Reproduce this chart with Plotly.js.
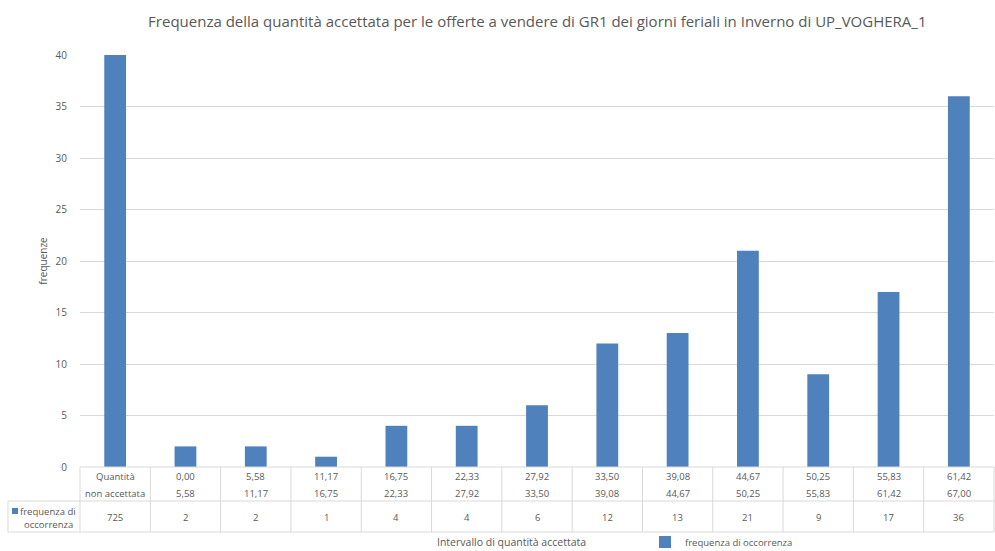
<!DOCTYPE html>
<html><head><meta charset="utf-8">
<script src="https://cdn.plot.ly/plotly-3.0.1.min.js"></script>
<style>html,body{margin:0;padding:0;background:#fff}#chart{width:995px;height:551px}</style>
</head><body><div id="chart"></div>
<script>
const lowerBounds = ["Quantità","0,00","5,58","11,17","16,75","22,33","27,92","33,50","39,08","44,67","50,25","55,83","61,42"];
const upperBounds = ["non accettata","5,58","11,17","16,75","22,33","27,92","33,50","39,08","44,67","50,25","55,83","61,42","67,00"];
const frequencies = [725,2,2,1,4,4,6,12,13,21,9,17,36];
const seriesName = "frequenza di occorrenza";
const yTicks = [0,5,10,15,20,25,30,35,40];

const W=995,H=551,L=80,R=1,T=55,B=84;
const pw=W-L-R, ph=H-T-B;
const n=frequencies.length;
const idx = frequencies.map((_,i)=>i);
const font = "Open Sans, sans-serif";
const gray = "#595959", lineC="#d9d9d9", blue="#4f81bd";
const py = p => (T+ph-p)/ph; // pixel y -> paper
const px = p => (p-L)/pw;

const shapes=[], ann=[];
shapes.push({type:'line',xref:'paper',yref:'paper',x0:0,x1:1,y0:py(467),y1:py(467),line:{color:lineC,width:1}});
shapes.push({type:'line',xref:'paper',yref:'paper',x0:px(8),x1:1,y0:py(501),y1:py(501),line:{color:lineC,width:1}});
shapes.push({type:'line',xref:'paper',yref:'paper',x0:px(8),x1:1,y0:py(532),y1:py(532),line:{color:lineC,width:1}});
shapes.push({type:'line',xref:'paper',yref:'paper',x0:px(8),x1:px(8),y0:py(501),y1:py(532),line:{color:lineC,width:1}});
for(let k=0;k<=n;k++){
  shapes.push({type:'line',xref:'paper',yref:'paper',x0:k/n,x1:k/n,y0:py(467),y1:py(532),line:{color:lineC,width:1}});
}
shapes.push({type:'rect',xref:'paper',yref:'paper',x0:px(12),x1:px(18),y0:py(514),y1:py(508),fillcolor:blue,line:{width:0}});
ann.push({xref:'paper',yref:'paper',x:px(48),y:py(511),text:"frequenza di",showarrow:false,font:{family:font,size:9.5,color:gray},xanchor:'center',yanchor:'middle'});
ann.push({xref:'paper',yref:'paper',x:px(48),y:py(524),text:"occorrenza",showarrow:false,font:{family:font,size:9.5,color:gray},xanchor:'center',yanchor:'middle'});
idx.forEach(i=>{
  ann.push({xref:'x',yref:'paper',x:i,y:py(476),text:lowerBounds[i],showarrow:false,font:{family:font,size:9.5,color:gray},yanchor:'middle'});
  ann.push({xref:'x',yref:'paper',x:i,y:py(493),text:upperBounds[i],showarrow:false,font:{family:font,size:9.5,color:gray},yanchor:'middle'});
  ann.push({xref:'x',yref:'paper',x:i,y:py(517),text:String(frequencies[i]),showarrow:false,font:{family:font,size:9.5,color:gray},yanchor:'middle'});
});
ann.push({xref:'paper',yref:'paper',x:px(511),y:py(542),text:"Intervallo di quantità accettata",showarrow:false,font:{family:font,size:10.5,color:gray},xanchor:'center',yanchor:'middle'});

const data=[{type:'bar',x:idx,y:frequencies,name:seriesName,marker:{color:blue},showlegend:true,hoverinfo:'y'}];
const layout={
  width:W,height:H,margin:{l:L,r:R,t:T,b:B,autoexpand:false},
  paper_bgcolor:'#fff',plot_bgcolor:'#fff',
  title:{text:"Frequenza della quantità accettata per le offerte a vendere di GR1 dei giorni feriali in Inverno di UP_VOGHERA_1",font:{family:font,size:15,color:gray},x:0.54,xanchor:'center',y:0.96,yanchor:'middle'},
  bargap:0.69,
  xaxis:{type:'linear',range:[-0.5,n-0.5],showticklabels:false,showgrid:false,zeroline:false,showline:false,ticks:''},
  yaxis:{range:[0,40],tickvals:yTicks,showgrid:true,gridcolor:lineC,zeroline:false,showline:false,ticks:'',ticklabelstandoff:12,
    tickfont:{family:font,size:10,color:gray},title:{text:"frequenze",font:{family:font,size:10,color:gray},standoff:6}},
  showlegend:true,
  legend:{orientation:'h',x:px(645),y:py(542),xanchor:'left',yanchor:'middle',bgcolor:'rgba(0,0,0,0)',font:{family:font,size:9.5,color:gray},itemwidth:30},
  shapes:shapes,annotations:ann
};
Plotly.newPlot('chart',data,layout,{displayModeBar:false});
</script></body></html>
